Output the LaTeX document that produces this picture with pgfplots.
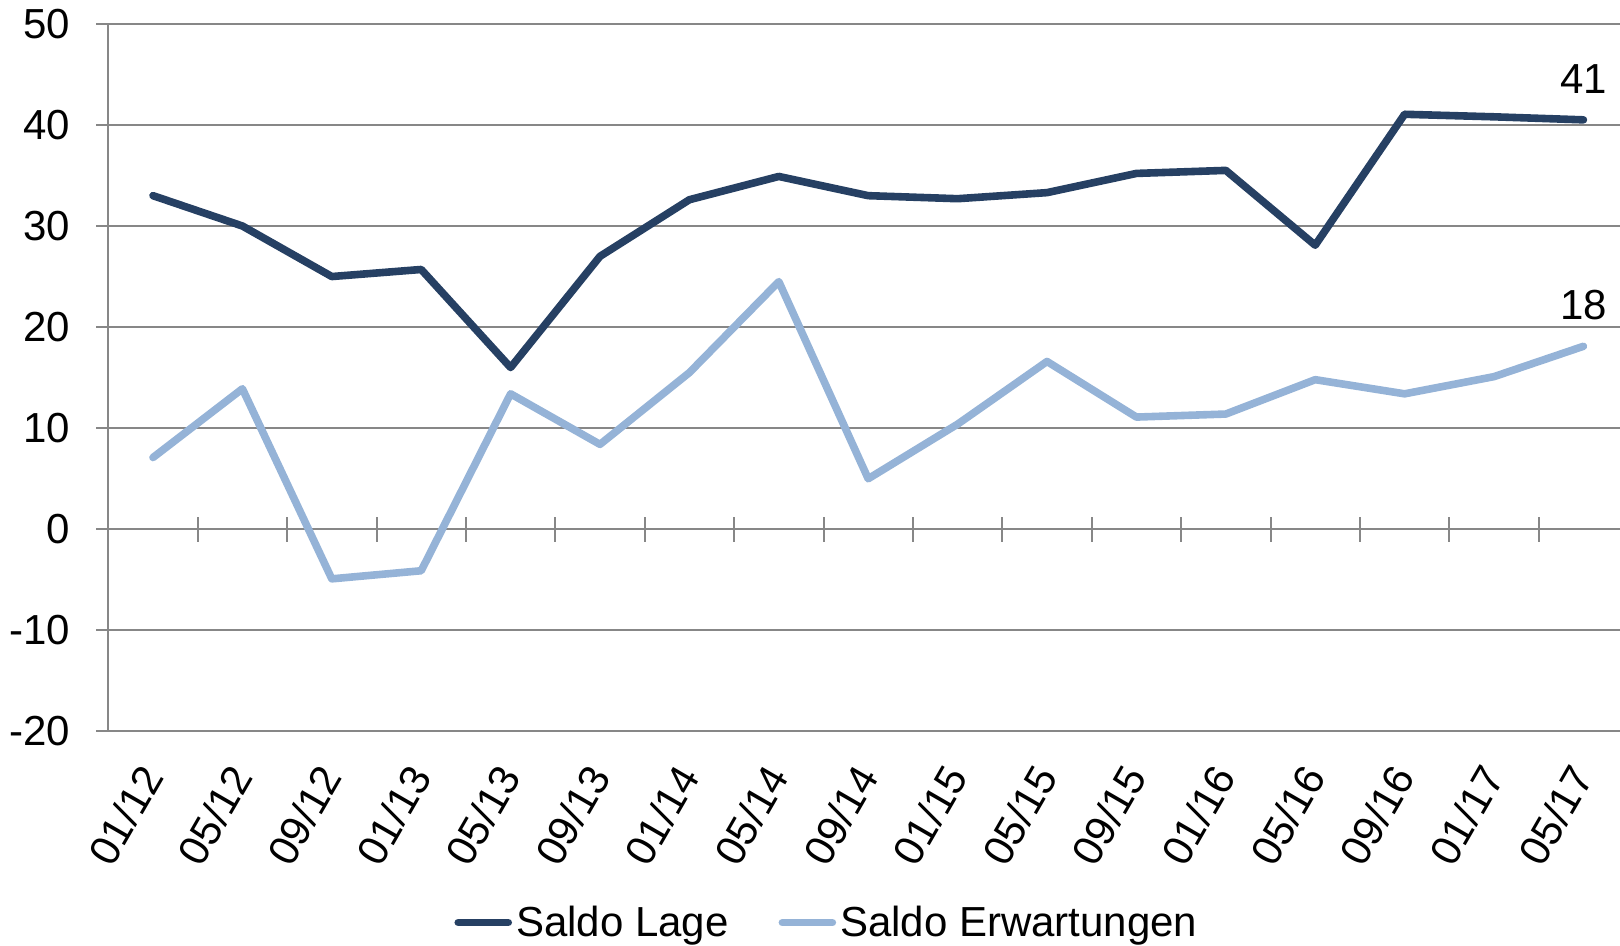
\documentclass[border=0pt]{standalone}
\usepackage{fontspec}
\setmainfont{Liberation Sans}
\usepackage{pgfplots}
\pgfplotsset{compat=1.18}
\definecolor{gridgray}{HTML}{878787}
\definecolor{lage}{HTML}{264063}
\definecolor{erw}{HTML}{95B3D7}
\newcommand{\bigf}{\fontsize{21}{25}\selectfont}
\begin{document}
\begin{tikzpicture}
\path[use as bounding box] (0,0) rectangle (810pt,473pt);
% zero line with cross ticks
\begin{axis}[
  at={(54.15pt,107.25pt)}, anchor=south west,
  scale only axis, width=759.9pt, height=353.85pt,
  xmin=-0.5, xmax=16.5, ymin=-20, ymax=50,
  axis x line=middle, axis y line=none,
  axis line style={draw=gridgray, line width=1pt, -},
  xtick={0.5,1.5,...,15.5}, xticklabel=\empty,
  ytick=\empty,
  tick align=center, major tick length=12.5pt,
  xtick style={draw=gridgray, line width=1pt},
]
\end{axis}
\begin{axis}[
  at={(54.15pt,107.25pt)}, anchor=south west,
  scale only axis, width=759.9pt, height=353.85pt,
  xmin=-0.5, xmax=16.5, ymin=-20, ymax=50,
  clip=false,
  axis x line*=bottom, axis y line*=left,
  axis line style={draw=gridgray, line width=1pt, -},
  xtick={0,...,16},
  xticklabels={01/12,05/12,09/12,01/13,05/13,09/13,01/14,05/14,09/14,01/15,05/15,09/15,01/16,05/16,09/16,01/17,05/17},
  xtick style={draw=none},
  xticklabel style={font=\bigf, anchor=east, inner sep=0pt, yshift=-13pt, xshift=-0.5pt, rotate=60},
  ytick={-20,-10,...,50},
  yticklabels={-20,-10,0,10,20,30,40,50},
  ytick style={draw=gridgray, line width=1pt},
  tick align=outside, major tick length=6pt,
  yticklabel style={font=\bigf, anchor=east, inner sep=0pt, xshift=-13pt},
  ymajorgrids, grid style={draw=gridgray, line width=1pt},
  legend columns=2,
  legend style={at={(0.4735,-0.270)}, anchor=center, draw=none, fill=none, font=\bigf,
    /tikz/every even column/.append style={column sep=23pt},
    nodes={inner xsep=2pt}},
  legend image code/.code={\draw[#1, line cap=round] (0pt,0pt) -- (25pt,0pt);},
]
\addplot[draw=lage, line width=3.8pt, line join=round, line cap=round] coordinates {
(0,33.0) (1,30.0) (2,25.0) (3,25.7) (4,16.0) (5,27.0) (6,32.6) (7,34.9) (8,33.0)
(9,32.7) (10,33.3) (11,35.2) (12,35.5) (13,28.1) (14,41.05) (15,40.8) (16,40.5)
} node[pos=1, yshift=20.5pt, font=\bigf] {41};
\addlegendentry{Saldo Lage}
\addplot[draw=erw, line width=3.8pt, line join=round, line cap=round] coordinates {
(0,7.1) (1,13.9) (2,-4.9) (3,-4.1) (4,13.4) (5,8.4) (6,15.5) (7,24.5) (8,5.0)
(9,10.4) (10,16.6) (11,11.1) (12,11.4) (13,14.8) (14,13.4) (15,15.1) (16,18.1)
} node[pos=1, yshift=20.5pt, font=\bigf] {18};
\addlegendentry{Saldo Erwartungen}
\end{axis}
\end{tikzpicture}
\end{document}
